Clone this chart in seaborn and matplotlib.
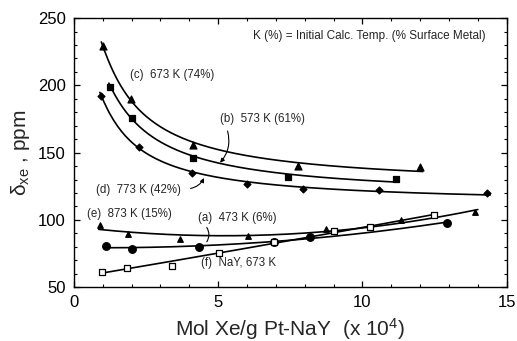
import numpy as np
import pandas as pd
import matplotlib
matplotlib.use("Agg")
import matplotlib.pyplot as plt
import seaborn as sns
from matplotlib.ticker import MultipleLocator

sns.set_theme(style="ticks")
plt.rcParams['font.family'] = ['Liberation Sans', 'DejaVu Sans']
plt.rcParams['mathtext.default'] = 'regular'

# Data
c_x = [1.0, 1.98, 4.14, 7.76, 11.99]
c_y = [229, 190, 156, 140, 139]
b_x = [1.26, 2.03, 4.12, 7.42, 11.16]
b_y = [199, 176, 146, 132, 130.5]
d_x = [0.95, 2.26, 4.09, 6.0, 7.95, 10.56, 14.33]
d_y = [192, 154.5, 135, 126.5, 123, 122, 120.3]
e_x = [0.91, 1.89, 3.69, 6.05, 8.74, 11.34, 13.9]
e_y = [96, 89.2, 85.7, 88.1, 92.9, 99.8, 105.5]
a_x = [1.11, 2.0, 4.34, 6.94, 8.2, 12.93]
a_y = [80.7, 78, 80, 83.7, 87.4, 98]
f_x = [0.97, 1.83, 3.39, 5.02, 6.94, 9.0, 10.25, 12.48]
f_y = [61.4, 64.4, 65.9, 75.5, 83.7, 91.6, 94.9, 103.5]

fig = plt.figure(figsize=(5.17, 3.41), dpi=100)
ax = fig.add_axes([0.143, 0.158, 0.837, 0.789])

def fit_curve(x, y, kind):
    x = np.asarray(x, float); y = np.asarray(y, float)
    xs = np.linspace(x.min() - 0.05, x.max() + 0.1, 200)
    if kind == "inv":
        p = np.polyfit(1.0 / x, y, 2)
        ys = np.polyval(p, 1.0 / xs)
    else:
        p = np.polyfit(x, y, 2)
        ys = np.polyval(p, xs)
    return xs, ys

series = [
    (c_x, c_y, "inv", "^", "black", 5),
    (b_x, b_y, "inv", "s", "black", 5),
    (d_x, d_y, "inv", "D", "black", 3.5),
    (e_x, e_y, "poly", "^", "black", 4),
    (a_x, a_y, "poly", "o", "black", 5.5),
    (f_x, f_y, "poly", "s", "white", 4.5),
]

for x, y, kind, m, fc, ms in series:
    xs, ys = fit_curve(x, y, kind)
    sns.lineplot(x=xs, y=ys, ax=ax, color="black", lw=1.2, estimator=None, sort=False)
    sns.scatterplot(x=x, y=y, ax=ax, marker=m, s=ms**2, color=fc,
                    edgecolor="black", linewidth=0.9, zorder=5)

ax.set_xlim(0, 15)
ax.set_ylim(50, 250)
ax.xaxis.set_major_locator(MultipleLocator(5))
ax.xaxis.set_minor_locator(MultipleLocator(1))
ax.yaxis.set_major_locator(MultipleLocator(50))
ax.yaxis.set_minor_locator(MultipleLocator(10))
ax.tick_params(which="both", direction="in", top=True, right=True, colors="black",
               labelsize=12)
ax.tick_params(which="major", length=4, width=0.9, pad=6)
ax.tick_params(which="minor", length=2, width=0.8)
for s in ax.spines.values():
    s.set_color("black"); s.set_linewidth(1.0)

ax.set_xlabel("Mol Xe/g Pt-NaY  (x 10$^4$)", fontsize=15, labelpad=4)
ax.set_ylabel(r"$\delta_{xe}$ , ppm", fontsize=15, labelpad=4)

fs = 8.3
ax.text(6.2, 237, "K (%) = Initial Calc. Temp. (% Surface Metal)", fontsize=8.5, ha="left", va="center")
ax.text(1.95, 208, "(c)  673 K (74%)", fontsize=fs, ha="left", va="center")
ax.text(5.05, 175, "(b)  573 K (61%)", fontsize=fs, ha="left", va="center")
ax.text(0.75, 122.5, "(d)  773 K (42%)", fontsize=fs, ha="left", va="center")
ax.text(0.45, 104.5, "(e)  873 K (15%)", fontsize=fs, ha="left", va="center")
ax.text(4.3, 101.5, "(a)  473 K (6%)", fontsize=fs, ha="left", va="center")
ax.text(4.4, 68, "(f)  NaY, 673 K", fontsize=fs, ha="left", va="center")

ax.annotate("", xy=(5.0, 141), xytext=(5.3, 168),
            arrowprops=dict(arrowstyle="-|>", color="black", lw=0.8, mutation_scale=6,
                            connectionstyle="arc3,rad=-0.3"))
ax.annotate("", xy=(4.55, 133), xytext=(3.95, 123),
            arrowprops=dict(arrowstyle="-|>", color="black", lw=0.8, mutation_scale=6,
                            connectionstyle="arc3,rad=0.3"))
ax.annotate("", xy=(4.55, 82), xytext=(4.55, 96),
            arrowprops=dict(arrowstyle="-", color="black", lw=0.8,
                            connectionstyle="arc3,rad=-0.4"))

fig.savefig("out.png", dpi=100)
